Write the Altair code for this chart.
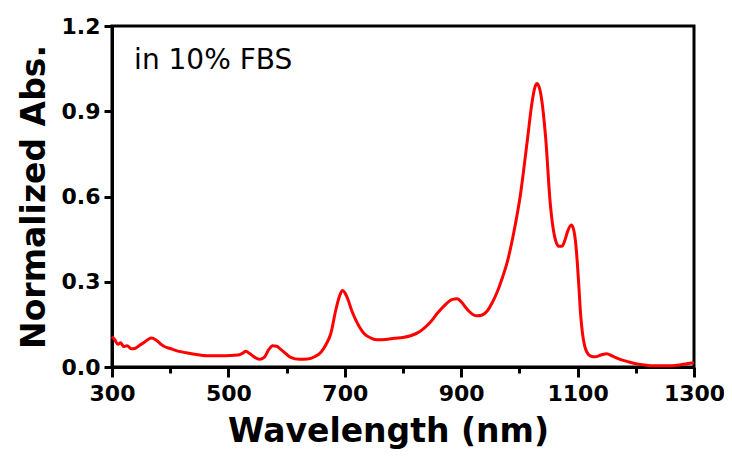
import altair as alt
import pandas as pd

wavelength = [300, 305, 310, 315, 320, 326, 333, 340, 347, 355, 362, 368, 375, 383, 390, 400, 413, 428, 442, 465,
              494, 516, 524, 530, 536, 542, 553, 562, 569, 576, 583, 590, 600, 607, 622, 636, 648, 659, 668, 676,
              685, 691, 696, 700, 705, 712, 719, 726, 733, 745, 756, 770, 785, 800, 813, 825, 836, 848, 859, 872,
              885, 893, 899, 906, 913, 920, 928, 936, 945, 953, 962, 970, 979, 990, 1002, 1013, 1022, 1026, 1030,
              1034, 1038, 1045, 1053, 1062, 1068, 1073, 1078, 1083, 1089, 1093, 1097, 1102, 1105, 1108, 1112, 1116,
              1123, 1130, 1140, 1150, 1160, 1173, 1188, 1202, 1215, 1230, 1253, 1275, 1293, 1300]
absorbance = [0.107, 0.095, 0.080, 0.085, 0.072, 0.075, 0.064, 0.066, 0.076, 0.086, 0.097, 0.102, 0.096, 0.082,
              0.072, 0.065, 0.056, 0.050, 0.045, 0.040, 0.040, 0.042, 0.048, 0.055, 0.048, 0.039, 0.027, 0.035,
              0.060, 0.075, 0.073, 0.062, 0.045, 0.034, 0.027, 0.028, 0.036, 0.052, 0.080, 0.118, 0.205, 0.250,
              0.269, 0.262, 0.240, 0.198, 0.165, 0.138, 0.118, 0.102, 0.096, 0.097, 0.101, 0.104, 0.110, 0.120,
              0.136, 0.160, 0.189, 0.218, 0.238, 0.240, 0.232, 0.214, 0.197, 0.185, 0.180, 0.183, 0.198, 0.225,
              0.265, 0.310, 0.368, 0.470, 0.610, 0.787, 0.935, 0.980, 0.998, 0.985, 0.945, 0.810, 0.576, 0.447,
              0.425, 0.425, 0.445, 0.478, 0.500, 0.485, 0.430, 0.290, 0.190, 0.125, 0.075, 0.052, 0.038, 0.036,
              0.042, 0.047, 0.038, 0.027, 0.018, 0.011, 0.007, 0.004, 0.004, 0.007, 0.013, 0.015]

x_ticks = [300, 400, 500, 600, 700, 800, 900, 1000, 1100, 1200, 1300]
y_ticks = [0.0, 0.3, 0.6, 0.9, 1.2]
annotation = ["in 10% FBS"]
annot_x = [338]
annot_y = [1.05]

df = pd.DataFrame({"wl": wavelength, "abs": absorbance})
ann = pd.DataFrame({"wl": annot_x, "abs": annot_y, "text": annotation})

FONT = "DejaVu Sans"

xscale = alt.Scale(domain=[300, 1300], nice=False, zero=False)
yscale = alt.Scale(domain=[0, 1.2], nice=False)

line = alt.Chart(df).mark_line(color="#FF0000", strokeWidth=3, interpolate="monotone").encode(
    x=alt.X("wl:Q", scale=xscale,
            axis=alt.Axis(values=x_ticks, title="Wavelength (nm)", format="d",
                          labelExpr="datum.value % 200 == 100 ? datum.label : ''",
                          labelFlush=False, labelOverlap=False, labelBound=False,
                          tickSize={"condition": {"test": "datum.value % 200 == 100", "value": 10}, "value": 6},
                          titleX=276, titleAnchor="start", titleAlign="center",
                          grid=False)),
    y=alt.Y("abs:Q", scale=yscale,
            axis=alt.Axis(values=y_ticks, title="Normalized Abs.", format=".1f", grid=False, tickSize=8,
                          labelFlush=False, labelOverlap=False)),
)

text = alt.Chart(ann).mark_text(align="left", baseline="alphabetic", font=FONT, fontSize=28,
                                color="black").encode(
    x=alt.X("wl:Q", scale=xscale),
    y=alt.Y("abs:Q", scale=yscale),
    text="text:N",
)

chart = (line + text).properties(
    width=582, height=341,
    autosize=alt.AutoSizeParams(type="none"),
    padding={"left": 104, "top": 18, "right": 30, "bottom": 92},
).configure_view(
    stroke="black", strokeWidth=3
).configure_axis(
    domainColor="black", domainWidth=3, tickColor="black", tickWidth=3,
    labelFont=FONT, labelFontWeight="bold", labelFontSize=22, labelColor="black",
    titleFont=FONT, titleFontWeight="bold", titleFontSize=33, titleColor="black",
    labelPadding=4,
).configure_axisX(
    titlePadding=11, labelPadding=6
).configure_axisY(
    titlePadding=10
)

chart.save("out.html", embed_options={"renderer": "svg", "actions": False})
